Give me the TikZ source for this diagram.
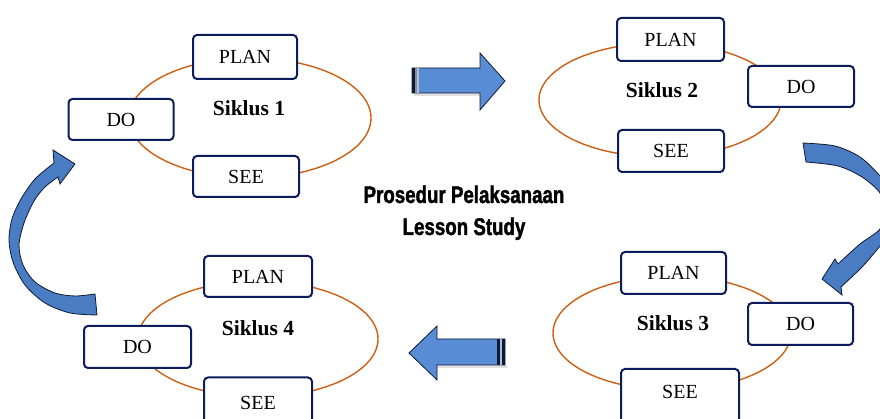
\documentclass[tikz,border=0pt]{standalone}
\usepackage{fontspec}
\setmainfont{Liberation Serif}
\newfontfamily\titlefont[FakeStretch=0.78,FakeBold=1.6]{Liberation Sans}
\definecolor{boxline}{RGB}{12,28,92}
\definecolor{ellcol}{RGB}{205,95,20}
\definecolor{arrfill}{RGB}{88,140,212}
\definecolor{arrcurve}{RGB}{74,124,196}
\definecolor{arredge}{RGB}{15,25,50}
\tikzset{
  box/.style={draw=boxline, line width=2pt, rounded corners=4pt, fill=white,
    inner sep=0pt, font=\fontsize{20}{24}\selectfont},
  cyc/.style={inner sep=0pt, font=\fontsize{21.5}{25}\selectfont\bfseries},
  ell/.style={draw=ellcol, line width=1.4pt},
  blockarrow/.style={fill=arrfill, draw=arredge, line width=0.8pt, line join=miter},
  curvearrow/.style={fill=arrcurve, draw=arredge, line width=0.8pt, line join=miter},
  ttl/.style={inner sep=0pt, anchor=base, font=\fontsize{24}{28}\selectfont\titlefont\bfseries}
}
\begin{document}
\begin{tikzpicture}[x=1pt,y=1pt]
\useasboundingbox (0,0) rectangle (880,419);
\clip (0,0) rectangle (880,419);

% ---------- ellipses ----------
\draw[ell] (250,301) ellipse[x radius=121, y radius=60];
\draw[ell] (660,319) ellipse[x radius=121, y radius=57];
\draw[ell] (672,86) ellipse[x radius=119, y radius=57];
\draw[ell] (258,80) ellipse[x radius=120, y radius=58];

% ---------- cycle 1 ----------
\node[box, minimum width=104pt, minimum height=44pt] (plan1) at (245,362) {PLAN};
\node[box, minimum width=105pt, minimum height=41pt] (do1) at (121,299.5) {DO};
\node[box, minimum width=106pt, minimum height=41pt] (see1) at (246,242.5) {SEE};
\node[cyc] (sik1) at (249,311) {Siklus 1};

% ---------- cycle 2 ----------
\node[box, minimum width=107pt, minimum height=43pt] (plan2) at (670.5,379.5) {PLAN};
\node[box, minimum width=106pt, minimum height=41pt] (do2) at (801,332.5) {DO};
\node[box, minimum width=106pt, minimum height=42pt] (see2) at (671,268) {SEE};
\node[cyc] (sik2) at (662,329) {Siklus 2};

% ---------- cycle 3 ----------
\node[box, minimum width=105pt, minimum height=42pt] (plan3) at (673.5,146) {PLAN};
\node[box, minimum width=105pt, minimum height=42pt] (do3) at (800.5,95) {DO};
\node[box, minimum width=118pt, minimum height=58pt, text depth=13pt] (see3) at (680,21) {SEE};
\node[cyc] (sik3) at (673,96) {Siklus 3};

% ---------- cycle 4 ----------
\node[box, minimum width=108pt, minimum height=41pt] (plan4) at (258,142.5) {PLAN};
\node[box, minimum width=107pt, minimum height=42pt] (do4) at (137.5,72) {DO};
\node[box, minimum width=108pt, minimum height=50pt] (see4) at (258,16.5) {SEE};
\node[cyc] (sik4) at (258,91) {Siklus 4};

% ---------- title ----------
\node[ttl] (title1) at (464,216) {Prosedur Pelaksanaan};
\node[ttl] (title2) at (464,184) {Lesson Study};

% ---------- straight block arrows ----------
\fill[black!12] (414,323) -- (482,323) -- (482,326) -- (414,326) -- cycle;
\path[blockarrow] (412,326) -- (480,326) -- (480,309) -- (505,338) -- (480,366)
  -- (480,351) -- (412,351) -- cycle;
\fill[arredge] (412,326) rectangle (415,351);
\fill[black!45] (415,326) rectangle (417,351);
\fill[arrfill!55!white] (417,326) rectangle (419,351);

\fill[black!12] (437,51) -- (507,51) -- (507,54) -- (437,54) -- cycle;
\path[blockarrow] (505,54) -- (437,54) -- (437,39) -- (409,66) -- (437,93)
  -- (437,80) -- (505,80) -- cycle;
\fill[arredge] (502,54) rectangle (505,80);
\fill[arrfill!55!white] (500,54) rectangle (502,80);
\fill[arredge] (497,54) rectangle (499.5,80);

% ---------- curved arrows ----------
\path[curvearrow] plot[smooth] coordinates {(803,276) (835,273) (860,262) (880,243)
  (893,224) (896,208) (893,191) (880,173) (862,152) (841,132)}
  -- (842,124) -- (822,140) -- (835,160)
  -- plot[smooth] coordinates {(838,155) (860,175) (880,190) (884,208) (880,226)
  (862,242) (838,253) (806,257)} -- cycle;

\path[curvearrow] plot[smooth] coordinates {(97,104) (70,106) (45,116) (25,134)
  (13,157) (9,179) (12,200) (21,220) (35,240) (54,256)}
  -- (53,269) -- (75,255) -- (60,235)
  -- plot[smooth] coordinates {(58,242) (45,232) (34,218) (24,196) (19,174)
  (23,154) (35,137) (55,126) (75,123) (95,125)} -- cycle;
\end{tikzpicture}
\end{document}
